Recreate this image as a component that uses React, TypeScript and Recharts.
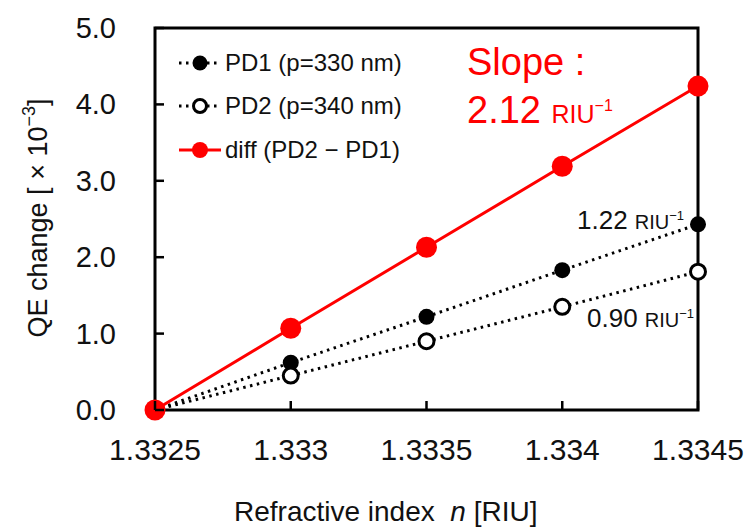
import React from 'react';
import { LineChart, Line, XAxis, YAxis, Legend, ReferenceArea } from 'recharts';

const refractiveIndex = [1.3325, 1.333, 1.3335, 1.334, 1.3345];
const xTickLabels = ['1.3325', '1.333', '1.3335', '1.334', '1.3345'];
const pd1Values = [0, 0.62, 1.22, 1.83, 2.43];
const pd2Values = [0, 0.45, 0.9, 1.35, 1.81];
const diffValues = [0, 1.07, 2.13, 3.19, 4.24];
const yTicks = [0, 1, 2, 3, 4, 5];

const data = refractiveIndex.map((n, i) => ({
  n,
  pd1: pd1Values[i],
  pd2: pd2Values[i],
  diff: diffValues[i],
}));

const FONT = '"Liberation Sans", Arial, Helvetica, sans-serif';
const RED = '#ff0000';

const XTick = (props: any) => {
  const { x, y, payload } = props;
  const i = refractiveIndex.indexOf(payload.value);
  return (
    <g>
      <line x1={x} y1={y} x2={x} y2={y - 9} stroke="#000" strokeWidth={2.5} />
      <text x={x} y={y + 50} textAnchor="middle" fontSize={30} fontFamily={FONT} fill="#111">
        {i >= 0 ? xTickLabels[i] : payload.value}
      </text>
    </g>
  );
};

const YTick = (props: any) => {
  const { x, y, payload } = props;
  return (
    <g>
      <line x1={x} y1={y} x2={x + 9} y2={y} stroke="#000" strokeWidth={2.5} />
      <text x={x - 39} y={y + 10} textAnchor="end" fontSize={29} fontFamily={FONT} fill="#111">
        {Number(payload.value).toFixed(1)}
      </text>
    </g>
  );
};

const legendRows = [
  { label: 'PD1 (p=330 nm)', color: '#000', fill: '#000', dotted: true, r: 7.5 },
  { label: 'PD2 (p=340 nm)', color: '#000', fill: '#fff', dotted: true, r: 6.5 },
  { label: 'diff (PD2 \u2212 PD1)', color: RED, fill: RED, dotted: false, r: 8 },
];

// legend sits inside the plot frame, top-left
const renderLegend = () => (
  <div style={{ fontFamily: FONT, fontSize: 24, color: '#111' }}>
    {legendRows.map((row) => (
      <div key={row.label} style={{ display: 'flex', alignItems: 'center', height: 43.5 }}>
        <svg width={45} height={24} style={{ marginRight: 2 }}>
          <line
            x1={1}
            y1={12}
            x2={43}
            y2={12}
            stroke={row.color}
            strokeWidth={3}
            strokeDasharray={row.dotted ? '2.5 4.5' : undefined}
          />
          <circle cx={22} cy={12} r={row.r} fill={row.fill} stroke={row.color} strokeWidth={row.fill === '#fff' ? 3 : 0} />
        </svg>
        <span>{row.label}</span>
      </div>
    ))}
  </div>
);

export default function App() {
  return (
    <div style={{ position: 'absolute', left: 0, top: 0, width: 752, height: 528, background: '#fff' }}>
      <LineChart width={752} height={528} data={data} margin={{ top: 28, right: 54, bottom: 58, left: 95 }}>
        <XAxis
          dataKey="n"
          type="number"
          domain={[1.3325, 1.3345]}
          ticks={refractiveIndex}
          tick={<XTick />}
          tickLine={false}
          axisLine={false}
          tickSize={0}
          tickMargin={0}
          height={60}
          interval={0}
        />
        <YAxis
          type="number"
          domain={[0, 5]}
          ticks={yTicks}
          tick={<YTick />}
          tickLine={false}
          axisLine={false}
          tickSize={0}
          tickMargin={0}
          width={60}
          interval={0}
        />
        <ReferenceArea
          x1={1.3325}
          x2={1.3345}
          y1={0}
          y2={5}
          fill="none"
          fillOpacity={0}
          stroke="#000"
          strokeWidth={3}
          ifOverflow="visible"
        />
        <Legend
          layout="vertical"
          align="center"
          verticalAlign="middle"
          content={renderLegend}
          wrapperStyle={{ top: 41, left: 178, width: 260 }}
        />
        <Line
          dataKey="pd1"
          type="linear"
          stroke="#000"
          strokeWidth={3}
          strokeDasharray="2.5 4.5"
          dot={{ r: 8, fill: '#000', stroke: '#000', strokeWidth: 0 }}
          isAnimationActive={false}
        />
        <Line
          dataKey="pd2"
          type="linear"
          stroke="#000"
          strokeWidth={3}
          strokeDasharray="2.5 4.5"
          dot={{ r: 7.5, fill: '#fff', stroke: '#000', strokeWidth: 3, strokeDasharray: '' }}
          isAnimationActive={false}
        />
        <Line
          dataKey="diff"
          type="linear"
          stroke={RED}
          strokeWidth={3}
          dot={{ r: 10.5, fill: RED, stroke: RED, strokeWidth: 0 }}
          isAnimationActive={false}
        />
      </LineChart>
      <svg
        width={752}
        height={528}
        style={{ position: 'absolute', left: 0, top: 0, pointerEvents: 'none' }}
        fontFamily={FONT}
      >
        <text x={467} y={75} fontSize={38} fill={RED}>{'Slope\u00a0:'}</text>
        <text x={467} y={123} fill={RED}>
          <tspan fontSize={38}>{'2.12\u00a0'}</tspan>
          <tspan fontSize={25}>RIU</tspan>
          <tspan fontSize={16} dy={-12}>{'\u22121'}</tspan>
        </text>
        <text x={577} y={229} fill="#111">
          <tspan fontSize={26}>{'1.22\u00a0'}</tspan>
          <tspan fontSize={20}>RIU</tspan>
          <tspan fontSize={13} dy={-9}>{'\u22121'}</tspan>
        </text>
        <text x={587} y={327} fill="#111">
          <tspan fontSize={26}>{'0.90\u00a0'}</tspan>
          <tspan fontSize={20}>RIU</tspan>
          <tspan fontSize={13} dy={-9}>{'\u22121'}</tspan>
        </text>
        <text x={234} y={521} fontSize={28} fill="#111">
          <tspan>{'Refractive index\u00a0\u00a0'}</tspan>
          <tspan fontStyle="italic">n</tspan>
          <tspan>{'\u00a0[RIU]'}</tspan>
        </text>
        <text
          x={0}
          y={0}
          fontSize={27}
          fill="#111"
          textAnchor="middle"
          transform="translate(47 218) rotate(-90)"
        >
          <tspan>{'QE change [\u00a0×\u00a010'}</tspan>
          <tspan fontSize={18} dy={-12}>{'\u22123'}</tspan>
          <tspan dy={12}>]</tspan>
        </text>
      </svg>
    </div>
  );
}
